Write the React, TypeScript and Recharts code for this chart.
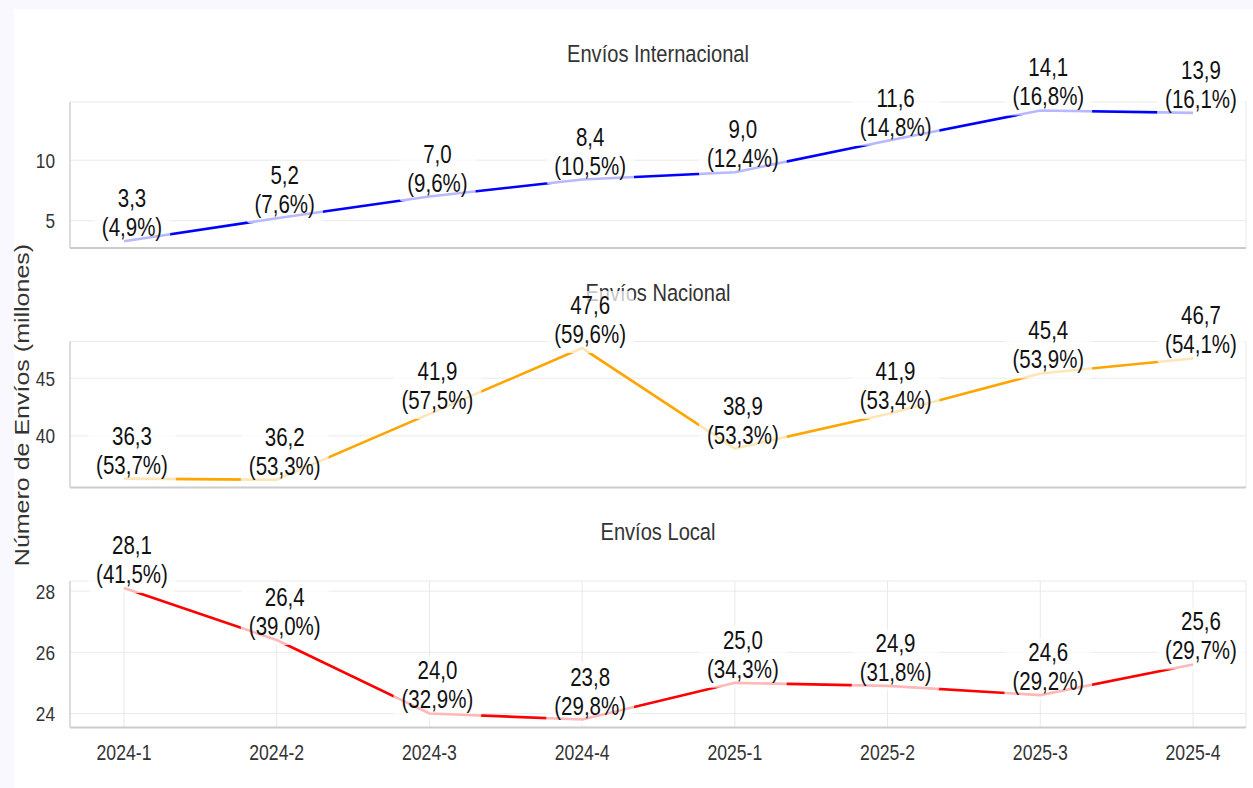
import { CartesianGrid, LabelList, Line, LineChart, XAxis, YAxis } from 'recharts'

const categories = ['2024-1', '2024-2', '2024-3', '2024-4', '2025-1', '2025-2', '2025-3', '2025-4']

const internacional = [3.3, 5.2, 7.0, 8.4, 9.0, 11.6, 14.1, 13.9]
const internacionalPct = [4.9, 7.6, 9.6, 10.5, 12.4, 14.8, 16.8, 16.1]
const nacional = [36.3, 36.2, 41.9, 47.6, 38.9, 41.9, 45.4, 46.7]
const nacionalPct = [53.7, 53.3, 57.5, 59.6, 53.3, 53.4, 53.9, 54.1]
const local = [28.1, 26.4, 24.0, 23.8, 25.0, 24.9, 24.6, 25.6]
const localPct = [41.5, 39.0, 32.9, 29.8, 34.3, 31.8, 29.2, 29.7]

const internacionalTicks = [5, 10]
const nacionalTicks = [40, 45]
const localTicks = [24, 26, 28]

const W = 1253
const H = 788
const FONT = "'Liberation Sans', Arial, sans-serif"
const SQUEEZE = 0.82 // the reference text is horizontally condensed

const fmt = (v: number) => v.toFixed(1).replace('.', ',')

// Arial-like advance widths, in em
const charW: Record<string, number> = { ',': 0.278, '(': 0.333, ')': 0.333, '%': 0.889 }
const textWidth = (s: string, size: number) =>
  s.split('').reduce((acc, c) => acc + (charW[c] ?? 0.556), 0) * size * SQUEEZE

function SText({ x, y, size, fill = '#111', anchor = 'middle', dy, children }: any) {
  return (
    <g transform={`translate(${x},${y}) scale(${SQUEEZE},1)`}>
      <text x={0} y={0} dy={dy} textAnchor={anchor} fontSize={size} fontFamily={FONT} fill={fill}>
        {children}
      </text>
    </g>
  )
}

function makeLabel(pcts: number[]) {
  return (props: any) => {
    const { x, y, index, value } = props
    const top = fmt(value)
    const bottom = `(${fmt(pcts[index])}%)`
    const w = textWidth(bottom, 25) + 16
    const cx = x + 8
    return (
      <g>
        <rect x={cx - w / 2} y={y - 57} width={w} height={62} rx={4} fill="#fff" fillOpacity={0.72} />
        <SText x={cx} y={y - 34} size={25}>{top}</SText>
        <SText x={cx} y={y - 5} size={25}>{bottom}</SText>
      </g>
    )
  }
}

const YTick = (props: any) => (
  <SText x={props.x} y={props.y} size={21} fill="#333" anchor="end" dy="0.355em">
    {props.payload.value}
  </SText>
)

const XTick = (props: any) => (
  <SText x={props.x} y={props.y} size={21.5} fill="#333" anchor="middle" dy="0.71em">
    {props.payload.value}
  </SText>
)

interface PanelProps {
  values: number[]
  pcts: number[]
  color: string
  domain: [number, number]
  ticks: number[]
  top: number
  bottom: number
  showX?: boolean
}

function Panel({ values, pcts, color, domain, ticks, top, bottom, showX = false }: PanelProps) {
  const data = categories.map((c, i) => ({ cat: c, value: values[i] }))
  return (
    <div style={{ position: 'absolute', left: 0, top: 0 }}>
      <LineChart
        width={W}
        height={H}
        data={data}
        margin={{ top, right: 7, left: 0, bottom: H - bottom - 30 }}
      >
        <CartesianGrid stroke="#e9e9e9" strokeWidth={1} />
        <XAxis
          dataKey="cat"
          height={30}
          padding={{ left: 54, right: 53 }}
          axisLine={{ stroke: '#cccccc', strokeWidth: 2 }}
          tickLine={false}
          tickSize={0}
          tickMargin={17}
          tick={showX ? <XTick /> : false}
        />
        <YAxis
          type="number"
          width={70}
          domain={domain}
          ticks={ticks}
          allowDataOverflow
          axisLine={{ stroke: '#d4d4d4', strokeWidth: 1.5 }}
          tickLine={false}
          tickSize={0}
          tickMargin={15}
          tick={<YTick />}
        />
        <Line
          type="linear"
          dataKey="value"
          stroke={color}
          strokeWidth={2.6}
          dot={false}
          isAnimationActive={false}
        >
          <LabelList dataKey="value" content={makeLabel(pcts)} />
        </Line>
      </LineChart>
    </div>
  )
}

export default function App() {
  return (
    <div
      style={{
        position: 'absolute',
        left: 0,
        top: 0,
        width: W,
        height: H,
        background: '#f8f8fe',
        overflow: 'hidden',
      }}
    >
      <div style={{ position: 'absolute', left: 14, top: 9, width: W - 14, height: H - 9, background: '#fff' }} />
      <svg width={W} height={H} style={{ position: 'absolute', left: 0, top: 0 }}>
        <SText x={658} y={62} size={24.5} fill="#333">Envíos Internacional</SText>
        <SText x={658} y={301} size={24.5} fill="#333">Envíos Nacional</SText>
        <SText x={658} y={540} size={24.5} fill="#333">Envíos Local</SText>
        <g transform={`translate(22,405) scale(${SQUEEZE},1) rotate(-90)`}>
          <text x={0} y={0} dy="0.35em" textAnchor="middle" fontSize={25} fontFamily={FONT} fill="#333">
            Número de Envíos (millones)
          </text>
        </g>
      </svg>
      <Panel
        values={internacional}
        pcts={internacionalPct}
        color="#0000ff"
        domain={[2.75, 14.8]}
        ticks={internacionalTicks}
        top={102}
        bottom={248}
      />
      <Panel
        values={nacional}
        pcts={nacionalPct}
        color="#ffa500"
        domain={[35.53, 48.17]}
        ticks={nacionalTicks}
        top={341.5}
        bottom={487.5}
      />
      <Panel
        values={local}
        pcts={localPct}
        color="#ff0000"
        domain={[23.54, 28.33]}
        ticks={localTicks}
        top={581}
        bottom={727.5}
        showX
      />
    </div>
  )
}
